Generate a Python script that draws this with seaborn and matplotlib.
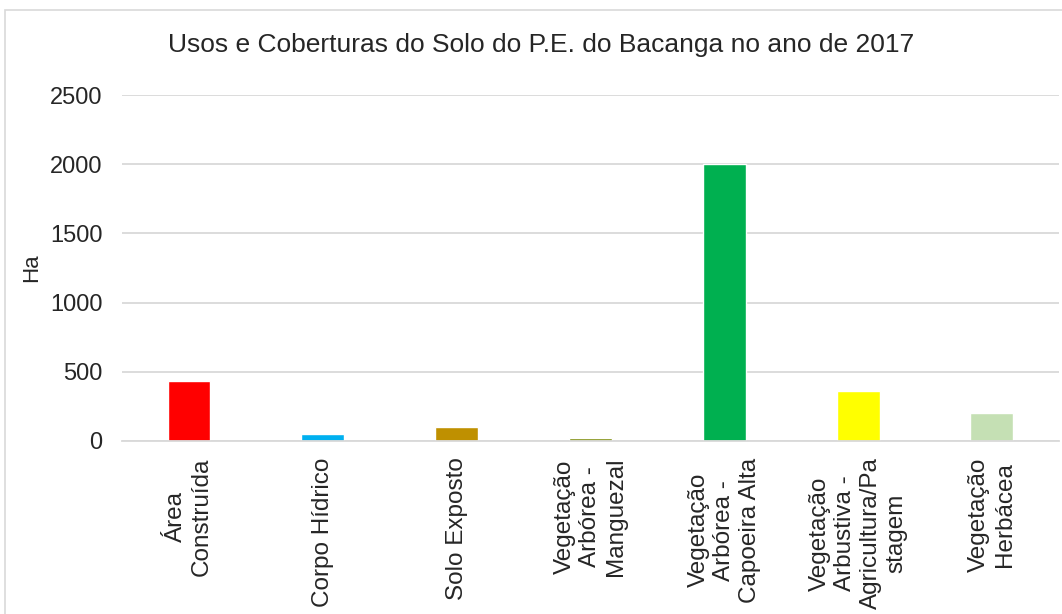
import matplotlib
matplotlib.use("Agg")
import matplotlib.pyplot as plt
import seaborn as sns
import pandas as pd
from matplotlib.patches import Rectangle

# --- data ---
categorias = [
    "Área\nConstruída",
    "Corpo Hídrico",
    "Solo Exposto",
    "Vegetação\nArbórea -\nManguezal",
    "Vegetação\nArbórea -\nCapoeira Alta",
    "Vegetação\nArbustiva -\nAgricultura/Pa\nstagem",
    "Vegetação\nHerbácea",
]
hectares = [433, 48, 100, 20, 2000, 360, 203]
cores = ["#FF0000", "#00B0F0", "#BF9000", "#7F8F10", "#00B050", "#FFFF00", "#C5E0B4"]
y_ticks = [0, 500, 1000, 1500, 2000, 2500]

df = pd.DataFrame({"categoria": categorias, "ha": hectares})

sns.set_theme(style="white")
plt.rcParams["font.family"] = ["Liberation Sans", "DejaVu Sans"]

fig = plt.figure(figsize=(10.62, 6.14), dpi=100)
ax = fig.add_axes([0.115, 0.282, 0.882, 0.563])

sns.barplot(data=df, x="categoria", y="ha", hue="categoria", palette=cores,
            width=0.32, legend=False, saturation=1, ax=ax)

ax.set_ylim(0, 2500)
ax.set_yticks(y_ticks)
ax.set_yticklabels([str(t) for t in y_ticks], fontsize=17, color="#262626")
ax.yaxis.grid(True, color="#D9D9D9", linewidth=1.3)
ax.set_axisbelow(True)
ax.tick_params(axis="y", length=0, pad=14)
ax.tick_params(axis="x", length=0, pad=12)
for s in ["top", "right", "left"]:
    ax.spines[s].set_visible(False)
ax.spines["bottom"].set_color("#D9D9D9")
ax.spines["bottom"].set_linewidth(1.3)

ax.set_xlabel("")
ax.set_xticks(range(len(categorias)))
ax.set_xticklabels(categorias, rotation=90, ha="center", va="top",
                   multialignment="center", fontsize=17.5, color="#262626",
                   linespacing=1.2)
ax.set_ylabel("Ha", fontsize=16, color="#262626", labelpad=5.5)

fig.text(0.51, 0.927, "Usos e Coberturas do Solo do P.E. do Bacanga no ano de 2017",
         ha="center", va="center", fontsize=19, color="#262626")

# outer chart border
fig.patches.append(Rectangle((5 / 1062, -0.05), 1.2, 1 - 10 / 614 + 0.05,
                             transform=fig.transFigure, fill=False,
                             edgecolor="#D9D9D9", linewidth=1.2))

fig.savefig("out.png", dpi=100)
